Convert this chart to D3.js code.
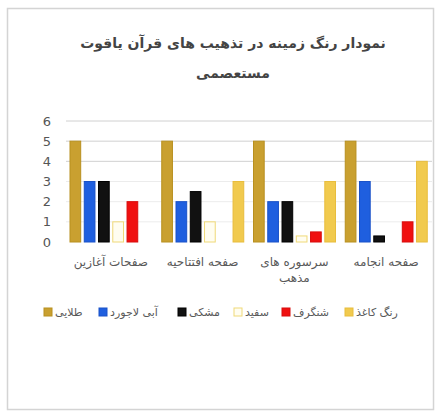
<!DOCTYPE html>
<html>
<head>
<meta charset="utf-8">
<script src="https://cdn.jsdelivr.net/npm/d3@7"></script>
<style>
  body { margin: 0; background: #fff; }
  text { font-family: "DejaVu Sans", sans-serif; }
</style>
</head>
<body>
<div id="chart"></div>
<script>
const categories = ["صفحات آغازین", "صفحه افتتاحیه", "سرسوره های مذهب", "صفحه انجامه"]
const categoryLines = [["صفحات آغازین"], ["صفحه افتتاحیه"], ["سرسوره های", "مذهب"], ["صفحه انجامه"]]
const seriesNames = ["طلایی", "آبی لاجورد", "مشکی", "سفید", "شنگرف", "رنگ کاغذ"]
const tala = [5, 5, 5, 5]
const abiLajvard = [3, 2, 2, 3]
const meshki = [3, 2.5, 2, 0.3]
const sefid = [1, 1, 0.3, 0]
const shangarf = [2, 0, 0.5, 1]
const rangKaghaz = [0, 3, 3, 4]
const yTicks = [0, 1, 2, 3, 4, 5, 6]

const seriesValues = [tala, abiLajvard, meshki, sefid, shangarf, rangKaghaz]
const fills = ["#c9a030", "#1f5fdf", "#111111", "#fffdf0", "#f01010", "#f1ca4e"]
const strokes = ["#b8901f", "#1a52c8", "#000000", "#efd978", "#d80c0c", "#e8bd3d"]

const width = 438, height = 414

const svg = d3.select("#chart").append("svg")
  .attr("width", width)
  .attr("height", height)

// card
svg.append("rect")
  .attr("x", 7.5).attr("y", 8.5)
  .attr("width", 426).attr("height", 401)
  .attr("fill", "#fff")
  .attr("stroke", "#d4d4d4")
  .attr("stroke-width", 1.5)

// title
svg.append("text")
  .attr("x", 233).attr("y", 48)
  .attr("text-anchor", "middle")
  .attr("direction", "rtl")
  .style("font-size", "14px")
  .style("font-weight", "bold")
  .attr("fill", "#444")
  .text("نمودار رنگ زمینه در تذهیب های قرآن یاقوت")
svg.append("text")
  .attr("x", 233).attr("y", 78)
  .attr("text-anchor", "middle")
  .attr("direction", "rtl")
  .style("font-size", "14px")
  .style("font-weight", "bold")
  .attr("fill", "#444")
  .text("مستعصمی")

const x0 = d3.scaleBand()
  .domain(categories)
  .range([65, 432])

const x1 = d3.scaleBand()
  .domain(seriesNames)
  .range([5, 87])
  .paddingInner(0.25)

const y = d3.scaleLinear()
  .domain([0, 6])
  .range([242, 121])

// gridlines
svg.append("g")
  .selectAll("line")
  .data(yTicks.filter(d => d > 0))
  .enter()
  .append("line")
    .attr("x1", 66).attr("x2", 432)
    .attr("y1", d => y(d)).attr("y2", d => y(d))
    .attr("stroke", d => d >= 4 ? "#d0d0d0" : "#ececec")
    .attr("stroke-width", 1)

// y axis labels
svg.append("g")
  .selectAll("text")
  .data(yTicks)
  .enter()
  .append("text")
    .attr("x", 51)
    .attr("y", d => y(d))
    .attr("dy", "0.35em")
    .attr("text-anchor", "end")
    .style("font-size", "13px")
    .attr("fill", "#555")
    .text(d => d)

// bars
const groups = svg.append("g")
  .selectAll("g")
  .data(categories)
  .enter()
  .append("g")
    .attr("transform", d => "translate(" + x0(d) + ",0)")

groups.selectAll("rect")
  .data((c, i) => seriesNames.map((s, j) => ({s: s, j: j, v: seriesValues[j][i]})))
  .enter()
  .filter(d => d.v > 0)
  .append("rect")
    .attr("x", d => x1(d.s))
    .attr("y", d => y(d.v))
    .attr("width", x1.bandwidth())
    .attr("height", d => y(0) - y(d.v))
    .attr("fill", d => fills[d.j])
    .attr("stroke", d => strokes[d.j])
    .attr("stroke-width", 1)

// category labels
const labels = svg.append("g")
  .selectAll("text")
  .data(categories)
  .enter()
  .append("text")
    .attr("x", d => x0(d) + x0.bandwidth() / 2)
    .attr("y", 266)
    .attr("text-anchor", "middle")
    .attr("direction", "rtl")
    .style("font-size", "12px")
    .attr("fill", "#595959")

labels.selectAll("tspan")
  .data((d, i) => categoryLines[i])
  .enter()
  .append("tspan")
    .attr("x", function() { return d3.select(this.parentNode).attr("x") })
    .attr("dy", (d, i) => i === 0 ? 0 : 16)
    .text(d => d)

// legend
const legendX = [44, 99, 178, 234, 282, 345]
const legend = svg.append("g")
  .selectAll("g")
  .data(seriesNames)
  .enter()
  .append("g")
    .attr("transform", (d, i) => "translate(" + legendX[i] + ",308)")

legend.append("rect")
  .attr("width", 8).attr("height", 8)
  .attr("fill", (d, i) => fills[i])
  .attr("stroke", (d, i) => strokes[i])

legend.append("text")
  .attr("x", 11)
  .attr("y", 4)
  .attr("dy", "0.35em")
  .attr("text-anchor", "end")
  .attr("direction", "rtl")
  .style("font-size", "11px")
  .attr("fill", "#595959")
  .text(d => d)
</script>
</body>
</html>
